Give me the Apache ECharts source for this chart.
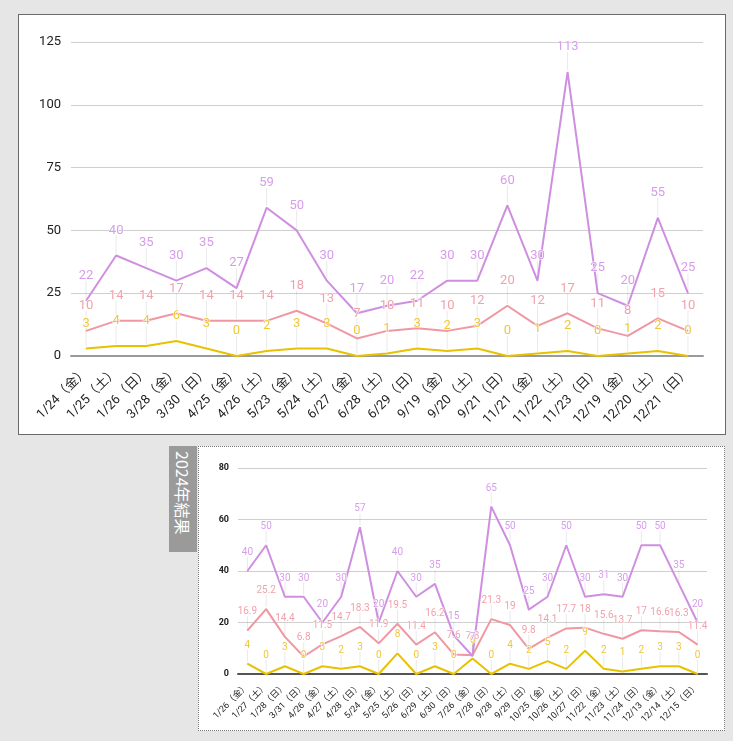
<!DOCTYPE html>
<html>
<head>
<meta charset="utf-8">
<script src="https://cdn.jsdelivr.net/npm/echarts@6/dist/echarts.min.js"></script>
<style>
  html, body { margin: 0; padding: 0; background: #e6e6e6; width: 733px; height: 741px; overflow: hidden; }
  #chart2025 { position: absolute; left: 18px; top: 14px; width: 706px; height: 419px; border: 1px solid #6a6a6a; background: #fff; }
  #chart2024 { position: absolute; left: 198px; top: 446px; width: 525px; height: 283px; border: 1px dotted #777; background: #fff; }
  #tag2024 { position: absolute; left: 169px; top: 446px; width: 28px; height: 106px; background: #9a9a9a; color: #fff;
             font-family: "Noto Sans CJK JP", sans-serif; font-size: 16px; line-height: 28px;
             writing-mode: vertical-rl; text-orientation: sideways; text-align: left; padding-top: 5px; box-sizing: border-box; }
</style>
</head>
<body>
<div id="chart2025"></div>
<div id="tag2024">2024年結果</div>
<div id="chart2024"></div>
<script>
// 2025 results
const days2025 = ['1/24（金）','1/25（土）','1/26（日）','3/28（金）','3/30（日）','4/25（金）','4/26（土）','5/23（金）','5/24（土）','6/27（金）','6/28（土）','6/29（日）','9/19（金）','9/20（土）','9/21（日）','11/21（金）','11/22（土）','11/23（日）','12/19（金）','12/20（土）','12/21（日）'];
const purple2025 = [22,40,35,30,35,27,59,50,30,17,20,22,30,30,60,30,113,25,20,55,25];
const pink2025   = [10,14,14,17,14,14,14,18,13,7,10,11,10,12,20,12,17,11,8,15,10];
const yellow2025 = [3,4,4,6,3,0,2,3,3,0,1,3,2,3,0,1,2,0,1,2,0];
const ticks2025 = [0,25,50,75,100,125];

// 2024 results
const days2024 = ['1/26（金）','1/27（土）','1/28（日）','3/31（日）','4/26（金）','4/27（土）','4/28（日）','5/24（金）','5/25（土）','5/26（日）','6/29（土）','6/30（日）','7/26（金）','7/28（日）','9/28（土）','9/29（日）','10/25（金）','10/26（土）','10/27（日）','11/22（金）','11/23（土）','11/24（日）','12/13（金）','12/14（土）','12/15（日）'];
const purple2024 = [40,50,30,30,20,30,57,20,40,30,35,15,7,65,50,25,30,50,30,31,30,50,50,35,20];
const pink2024   = [16.9,25.2,14.4,6.8,11.5,14.7,18.3,11.9,19.5,11.4,16.2,7.6,7.3,21.3,19,9.8,14.1,17.7,18,15.6,13.7,17,16.6,16.3,11.4];
const yellow2024 = [4,0,3,0,3,2,3,0,8,0,3,0,6,0,4,2,5,2,9,2,1,2,3,3,0];
const ticks2024 = [0,20,40,60,80];

const palette = {
  purple: { line: '#cf8fe0', label: '#d79deb' },
  pink:   { line: '#ef98a4', label: '#f0a2ac' },
  yellow: { line: '#e8c200', label: '#efc73a' }
};

const numFont = 'Roboto, "Noto Sans CJK JP", sans-serif';

// faint annotation stems between each value label and its point
function stems(values, dist) {
  return {
    type: 'custom',
    silent: true,
    z: 1,
    data: values.map((v, i) => [i, v]),
    encode: { x: 0, y: 1 },
    renderItem: function (params, api) {
      const p = api.coord([api.value(0), api.value(1)]);
      return {
        type: 'line',
        shape: { x1: p[0], y1: p[1] - 2, x2: p[0], y2: p[1] - dist },
        style: { stroke: 'rgba(0,0,0,0.09)', lineWidth: 1 }
      };
    }
  };
}

function lineSeries(values, col, fontSize, dist, width) {
  return {
    type: 'line',
    data: values,
    z: 3,
    symbol: 'circle',
    symbolSize: 1,
    showSymbol: true,
    itemStyle: { color: col.line },
    lineStyle: { color: col.line, width: width },
    label: {
      show: true, position: 'top', distance: dist,
      color: col.label, fontSize: fontSize, fontFamily: numFont,
      textBorderColor: '#fff', textBorderWidth: 1
    },
    emphasis: { disabled: true },
    animation: false
  };
}

function buildOption(cfg) {
  return {
    animation: false,
    grid: cfg.grid,
    xAxis: {
      type: 'category',
      data: cfg.days,
      boundaryGap: true,
      axisTick: { show: false },
      axisLine: { show: true, lineStyle: { color: cfg.baseColor, width: 2 } },
      axisLabel: { interval: 0, rotate: 45, fontSize: cfg.xFont, color: '#222', margin: cfg.xMargin,
                   fontFamily: 'Roboto, "Noto Sans CJK JP", sans-serif' }
    },
    yAxis: {
      type: 'value',
      min: cfg.ticks[0],
      max: cfg.ticks[cfg.ticks.length - 1],
      interval: cfg.ticks[1] - cfg.ticks[0],
      axisLine: { show: false },
      axisTick: { show: false },
      axisLabel: { fontSize: cfg.yFont, color: '#222', fontWeight: cfg.yWeight, margin: cfg.yMargin, fontFamily: numFont },
      splitLine: { lineStyle: { color: '#cfcfcf', width: 1 } }
    },
    series: [
      stems(cfg.purple, cfg.stem), stems(cfg.pink, cfg.stem), stems(cfg.yellow, cfg.stem),
      lineSeries(cfg.yellow, palette.yellow, cfg.labelFont, cfg.dist, cfg.lineWidth),
      lineSeries(cfg.pink, palette.pink, cfg.labelFont, cfg.dist, cfg.lineWidth),
      lineSeries(cfg.purple, palette.purple, cfg.labelFont, cfg.dist, cfg.lineWidth)
    ]
  };
}

const chartA = echarts.init(document.getElementById('chart2025'), null, { renderer: 'canvas' });
chartA.setOption(buildOption({
  grid: { left: 52, right: 22, top: 27, bottom: 78 },
  days: days2025, purple: purple2025, pink: pink2025, yellow: yellow2025, ticks: ticks2025,
  baseColor: '#9a9a9a', xFont: 13, xMargin: 14, yFont: 13, yWeight: 'normal', yMargin: 10,
  labelFont: 13, dist: 18, stem: 20, lineWidth: 2
}));

const chartB = echarts.init(document.getElementById('chart2024'), null, { renderer: 'canvas' });
chartB.setOption(buildOption({
  grid: { left: 39, right: 17, top: 21, bottom: 56 },
  days: days2024, purple: purple2024, pink: pink2024, yellow: yellow2024, ticks: ticks2024,
  baseColor: '#555', xFont: 9, xMargin: 11, yFont: 9, yWeight: 'bold', yMargin: 9,
  labelFont: 10, dist: 13, stem: 14, lineWidth: 2
}));
</script>
</body>
</html>
